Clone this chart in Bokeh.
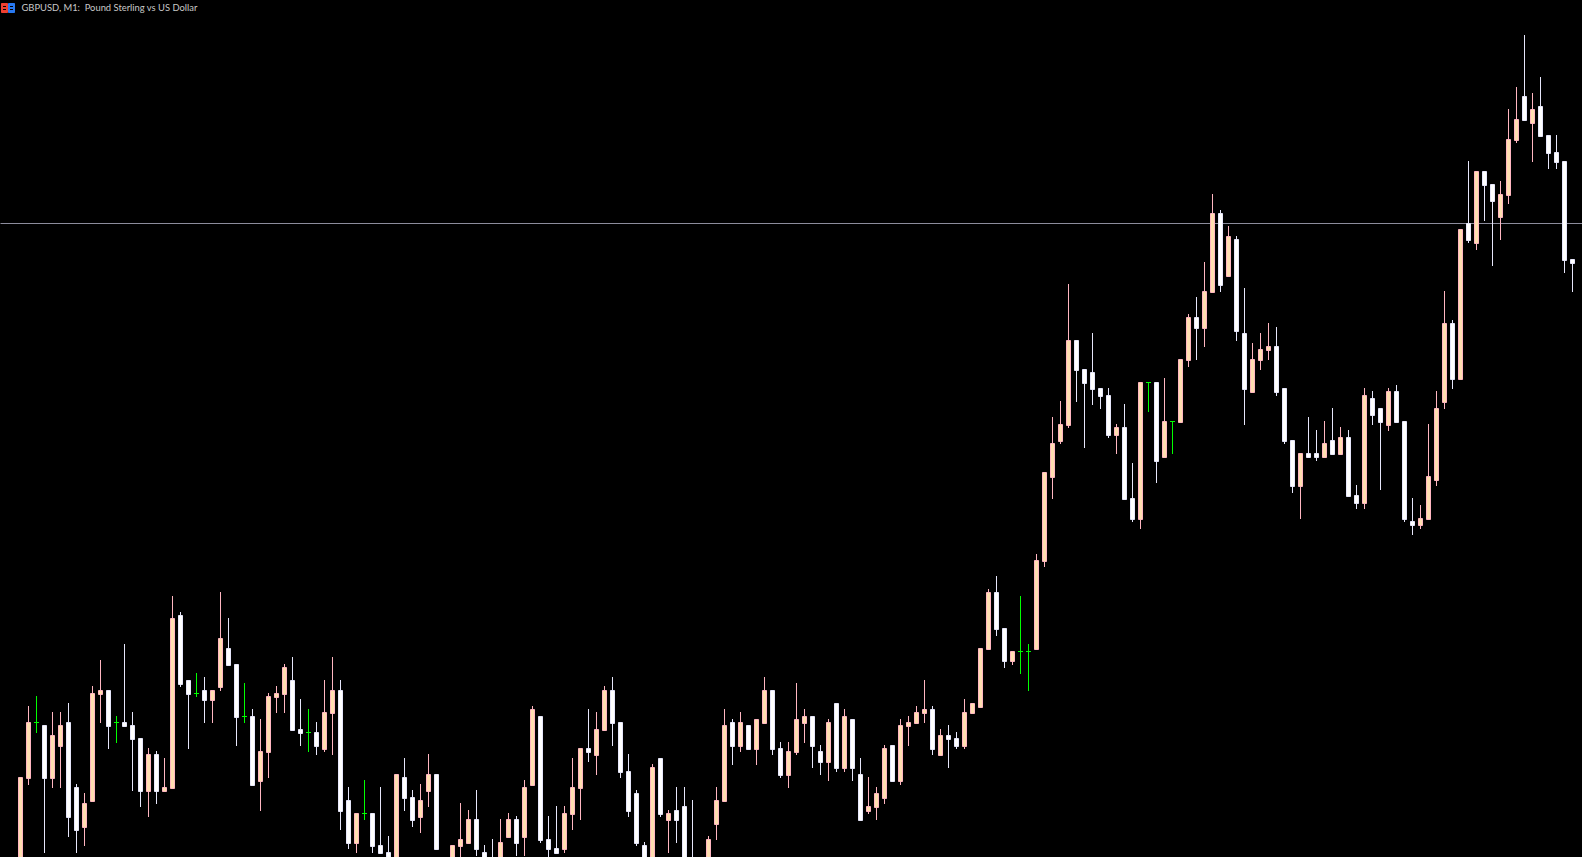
from bokeh.embed import file_html
from bokeh.resources import INLINE
from bokeh.plotting import figure
from bokeh.models import Label

title = "GBPUSD, M1:\u00a0 Pound Sterling vs US Dollar"

# Prices in chart points above the lower edge of the window
opens = [-10,78,135,132,78,110,135,70,29,55,
 162,167,135,135,132,119,65,103,65,68,
 242,177,164,167,156,169,209,193,141,141,
 75,104,159,162,177,128,125,125,107,143,
 167,57,13,44,44,12,5,-30,80,60,
 39,65,83,-12,-15,10,13,38,5,-1,
 -12,19,38,19,71,141,18,9,7,42,
 68,109,101,126,167,135,86,64,12,-15,
 99,36,47,51,-2,-14,-8,32,55,135,
 110,132,107,133,167,109,81,104,133,141,
 106,94,154,88,138,83,45,49,58,112,
 75,130,133,143,148,101,122,119,110,143,
 149,207,265,229,195,206,206,207,295,379,
 415,431,517,488,485,469,462,421,430,359,
 337,475,475,399,436,434,496,540,528,564,
 644,580,618,524,464,496,506,511,469,417,
 370,404,404,399,417,402,420,362,353,459,
 449,431,466,436,336,331,337,376,454,534,
 477,634,613,686,673,639,661,716,761,733,
 751,722,705,696,598]
highs = [80,151,161,132,145,145,154,73,64,171,
 197,167,141,213,145,119,109,106,99,261,
 245,177,184,180,167,265,239,193,174,148,
 138,164,171,193,200,158,148,135,177,200,
 177,70,44,77,44,70,21,83,99,67,
 73,103,83,-3,12,54,47,67,12,18,
 38,44,41,77,151,141,41,51,51,99,
 109,148,145,171,180,135,103,67,15,93,
 99,47,70,70,57,-2,21,70,148,138,
 145,132,138,180,167,115,115,174,148,141,
 112,138,154,148,138,99,80,70,112,112,
 138,141,151,177,151,128,132,125,158,154,
 209,268,281,229,206,261,213,303,385,440,
 456,573,517,488,524,469,469,433,453,394,
 475,475,475,479,436,498,543,560,595,663,
 647,631,621,569,514,524,534,530,469,417,
 404,440,427,436,449,430,427,372,469,466,
 449,469,472,436,359,352,433,466,566,537,
 628,696,686,686,673,676,748,770,822,764,
 780,722,722,696,598]
lows = [-10,72,124,4,69,69,20,4,11,55,
 134,108,114,130,66,50,40,53,65,68,
 170,108,160,134,134,166,191,111,134,71,
 46,79,144,144,126,111,105,102,105,102,
 27,8,4,37,4,3,-8,-30,46,30,
 24,50,7,-12,-15,-3,13,1,-12,-10,
 -12,19,1,1,71,14,-3,3,4,27,
 37,95,82,126,111,79,40,11,-5,-15,
 40,4,14,-10,-12,-18,-8,17,55,92,
 105,107,92,133,102,79,69,102,114,89,
 82,76,85,85,76,36,43,37,53,75,
 72,111,133,134,102,101,89,108,108,143,
 149,207,221,189,192,183,166,207,290,358,
 413,429,455,409,452,448,419,403,357,335,
 328,445,374,399,403,434,490,497,510,564,
 565,580,516,432,464,487,497,461,413,364,
 338,399,396,399,402,402,360,348,348,432,
 367,426,434,335,322,328,337,371,448,468,
 477,614,607,636,591,617,653,714,736,695,
 720,688,688,584,565]
closes = [80,135,135,78,122,132,39,26,54,164,
 167,130,135,130,117,65,103,65,70,239,
 172,162,164,156,167,219,191,139,141,71,
 106,161,164,190,126,123,125,110,145,167,
 45,13,44,44,10,3,-8,83,58,36,
 57,83,7,-3,12,18,38,7,-10,-10,
 15,38,13,70,148,16,7,3,44,70,
 109,104,128,167,133,84,45,13,-5,90,
 42,44,36,-10,-12,-4,18,57,132,110,
 135,107,138,167,107,81,106,138,141,110,
 94,135,88,141,88,36,51,64,109,75,
 132,135,145,148,107,122,117,110,145,154,
 209,265,227,195,206,206,206,297,385,414,
 433,517,486,473,467,460,421,430,357,337,
 475,475,395,436,436,498,540,528,566,644,
 571,621,525,467,498,508,511,464,415,370,
 404,399,399,414,402,420,360,353,462,441,
 434,466,434,337,331,339,381,449,534,477,
 628,616,686,671,655,663,718,738,736,748,
 720,703,694,596,593]
reference_level = 633.5

UP_LINE, UP_FILL = "#FFB6C1", "#FFDEB0"
DOWN_LINE, DOWN_FILL = "#E6E6FA", "#FFFFFF"
DOJI = "#00FF00"
STEP = 8
X0 = 20.5
W, H = 1582, 857


def px(v):
    return (v - X0) / STEP


# The SVG canvas draws everything half a pixel down and right, so the ranges
# are moved by the same half pixel to keep one-pixel lines sharp.
p = figure(width=W, height=H, x_range=(px(0.5), px(W + 0.5)), y_range=(-0.5, H - 0.5),
           output_backend="svg", toolbar_location=None, min_border=0,
           x_axis_type=None, y_axis_type=None,
           background_fill_color="#000000", border_fill_color="#000000",
           outline_line_color=None,
           styles={"position": "fixed", "left": "0px", "top": "0px",
                   "background-color": "#000000"})
p.grid.visible = False

p.segment([px(-4)], [reference_level], [px(W + 4)], [reference_level],
          line_color="#8C8C9C", line_width=1)

n = len(opens)
ups = [i for i in range(n) if closes[i] > opens[i]]
downs = [i for i in range(n) if closes[i] < opens[i]]
dojis = [i for i in range(n) if closes[i] == opens[i]]

for idx, line, fill in ((ups, UP_LINE, UP_FILL), (downs, DOWN_LINE, DOWN_FILL)):
    p.segment([i for i in idx], [highs[i] for i in idx],
              [i for i in idx], [lows[i] for i in idx],
              line_color=line, line_width=1)
    p.quad(left=[i - 0.25 for i in idx], right=[i + 0.25 for i in idx],
           top=[max(opens[i], closes[i]) - 0.5 for i in idx],
           bottom=[min(opens[i], closes[i]) + 0.5 for i in idx],
           fill_color=fill, line_color=line, line_width=1)

p.segment(dojis, [highs[i] for i in dojis], dojis, [lows[i] for i in dojis],
          line_color=DOJI, line_width=1)
p.segment([i - 0.3125 for i in dojis], [closes[i] - 0.5 for i in dojis],
          [i + 0.3125 for i in dojis], [closes[i] - 0.5 for i in dojis],
          line_color=DOJI, line_width=1)

# Window icon of the chart title
p.quad(left=[px(1.5), px(8.5)], right=[px(7.5), px(14.5)],
       top=[H - 3.5, H - 3.5], bottom=[H - 12.5, H - 12.5],
       fill_color=["#F04030", "#2878F0"], line_color=["#F04030", "#2878F0"], line_width=1)
for row in (6.5, 9.5):
    p.segment([px(3), px(10)], [H - row, H - row], [px(6), px(13)], [H - row, H - row],
              line_color="#000000", line_width=1)

p.add_layout(Label(x=21, y=H - 7, x_units="screen", y_units="screen", text=title,
                   text_color="#C8C8C8", text_font="Lato", text_font_size="9.4px",
                   text_baseline="middle", text_align="left"))

open("out.html", "w").write(file_html(p, INLINE))
